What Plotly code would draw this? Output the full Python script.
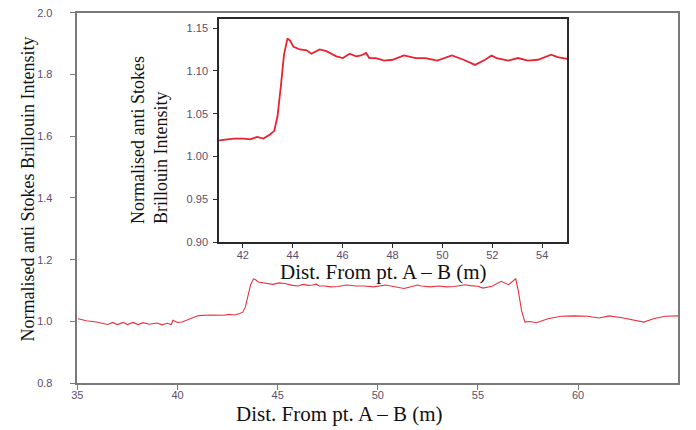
import plotly.graph_objects as go

# Distance along fibre (m) and normalised anti-Stokes Brillouin intensity
distance = [35.03, 35.45, 35.94, 36.52, 36.76, 37.0, 37.29, 37.5, 37.78, 38.04,
            38.28, 38.58, 38.98, 39.23, 39.48, 39.69, 39.77, 40.0, 40.22, 40.71,
            41.05, 41.64, 42.04, 42.3, 42.57, 42.83, 43.1, 43.26, 43.39, 43.52,
            43.65, 43.79, 43.9, 44.03, 44.29, 44.56, 44.75, 45.08, 45.35, 45.75,
            46.01, 46.28, 46.54, 46.74, 46.94, 47.07, 47.33, 47.67, 48.0, 48.46,
            48.93, 49.32, 49.79, 50.38, 50.85, 51.31, 51.71, 51.97, 52.17, 52.64,
            53.03, 53.43, 53.83, 54.36, 54.62, 55.0, 55.25, 55.7, 56.16, 56.53,
            56.89, 57.02, 57.18, 57.35, 57.59, 57.92, 58.5, 59.16, 59.82, 60.48,
            61.05, 61.55, 62.13, 62.7, 63.28, 63.77, 64.35, 65.0]
intensity = [1.009, 1.002, 0.998, 0.990, 0.997, 0.990, 0.997, 0.990, 0.997, 0.990,
             0.996, 0.991, 0.995, 0.989, 0.994, 0.990, 1.004, 0.997, 0.998, 1.009,
             1.019, 1.021, 1.021, 1.020, 1.023, 1.021, 1.026, 1.030, 1.047, 1.081,
             1.119, 1.138, 1.135, 1.128, 1.125, 1.124, 1.120, 1.125, 1.123, 1.117,
             1.115, 1.120, 1.117, 1.118, 1.121, 1.115, 1.115, 1.112, 1.113, 1.118,
             1.115, 1.115, 1.112, 1.118, 1.113, 1.107, 1.113, 1.118, 1.115, 1.112,
             1.115, 1.112, 1.113, 1.119, 1.116, 1.114, 1.108, 1.114, 1.130, 1.119,
             1.138, 1.098, 1.035, 0.998, 1.000, 0.996, 1.009, 1.017, 1.018, 1.017,
             1.011, 1.018, 1.013, 1.005, 0.998, 1.009, 1.017, 1.018]

main_xticks = [35, 40, 45, 50, 55, 60]
main_yticks = [0.8, 1.0, 1.2, 1.4, 1.6, 1.8, 2.0]
inset_xticks = [42, 44, 46, 48, 50, 52, 54]
inset_yticks = [0.90, 0.95, 1.00, 1.05, 1.10, 1.15]

x_title = "Dist. From pt. A \u2013 B (m)"
y_title = "Normalised anti Stokes Brillouin Intensity"
inset_y_title = "Normalised anti Stokes<br>Brillouin Intensity"

W, H = 696, 430
tick_font = dict(family="Liberation Sans, Arial, sans-serif", size=11, color="#5c4d6b")
ytitle_font = dict(family="Liberation Serif, Times New Roman, serif", size=18, color="#111111")
xtitle_font = dict(family="Liberation Serif, Times New Roman, serif", size=21, color="#111111")

fig = go.Figure()
fig.add_trace(go.Scatter(x=distance, y=intensity, mode="lines",
                         line=dict(color="#e8323f", width=1.1),
                         xaxis="x", yaxis="y", showlegend=False))
fig.add_trace(go.Scatter(x=distance, y=intensity, mode="lines",
                         line=dict(color="#e82230", width=1.8),
                         xaxis="x2", yaxis="y2", showlegend=False))

fig.update_layout(
    width=W, height=H,
    margin=dict(l=0, r=0, t=0, b=0),
    paper_bgcolor="white", plot_bgcolor="white",
    xaxis=dict(domain=[72 / W, 678 / W], range=[35, 65], tickvals=main_xticks,
               showgrid=False, zeroline=False, showline=True, mirror=True,
               linecolor="#7a7a7a", linewidth=1.5, ticks="outside", ticklen=5,
               tickcolor="#7a7a7a", tickfont=tick_font, ticklabelstandoff=-4,
               anchor="y"),
    yaxis=dict(domain=[1 - 388 / H, 1 - 7 / H], range=[0.8, 2.0], tickvals=main_yticks,
               tickformat=".1f", showgrid=False, zeroline=False, showline=True,
               mirror=True, linecolor="#7a7a7a", linewidth=1.5, ticks="outside",
               ticklen=6, tickcolor="#7a7a7a", tickfont=tick_font,
               ticklabelstandoff=15, anchor="x"),
    xaxis2=dict(domain=[215 / W, 566 / W], range=[41.05, 55.0], tickvals=inset_xticks,
                showgrid=False, zeroline=False, showline=True, mirror=True,
                linecolor="#2a2a2a", linewidth=1.8, ticks="outside", ticklen=4,
                tickcolor="#2a2a2a", tickfont=tick_font, ticklabelstandoff=-2,
                anchor="y2"),
    yaxis2=dict(domain=[1 - 243 / H, 1 - 13 / H], range=[0.90, 1.161],
                tickvals=inset_yticks, tickformat=".2f", showgrid=False,
                zeroline=False, showline=True, mirror=True, linecolor="#2a2a2a",
                linewidth=1.8, ticks="outside", ticklen=4, tickcolor="#2a2a2a",
                tickfont=tick_font, ticklabelstandoff=3, anchor="x2"),
    shapes=[dict(type="rect", xref="paper", yref="paper",
                 x0=215 / W, x1=566 / W, y0=1 - 243 / H, y1=1 - 13 / H,
                 fillcolor="white", line=dict(width=0), layer="below")],
    annotations=[
        dict(text=y_title, xref="paper", yref="paper", x=22 / W, y=1 - 188 / H,
             textangle=-90, showarrow=False, font=ytitle_font,
             xanchor="center", yanchor="middle"),
        dict(text=x_title, xref="paper", yref="paper", x=336 / W, y=1 - 420 / H,
             showarrow=False, font=xtitle_font, xanchor="center", yanchor="middle"),
        dict(text=inset_y_title, xref="paper", yref="paper", x=144 / W, y=1 - 138 / H,
             textangle=-90, showarrow=False, font=ytitle_font, align="left",
             xanchor="center", yanchor="middle"),
        dict(text=x_title, xref="paper", yref="paper", x=381 / W, y=1 - 274 / H,
             showarrow=False, font=xtitle_font, xanchor="center", yanchor="middle"),
    ],
)

fig.write_html("out.html", config={"displayModeBar": False},
               post_script="document.body.style.margin='0';document.body.style.overflow='hidden';")
